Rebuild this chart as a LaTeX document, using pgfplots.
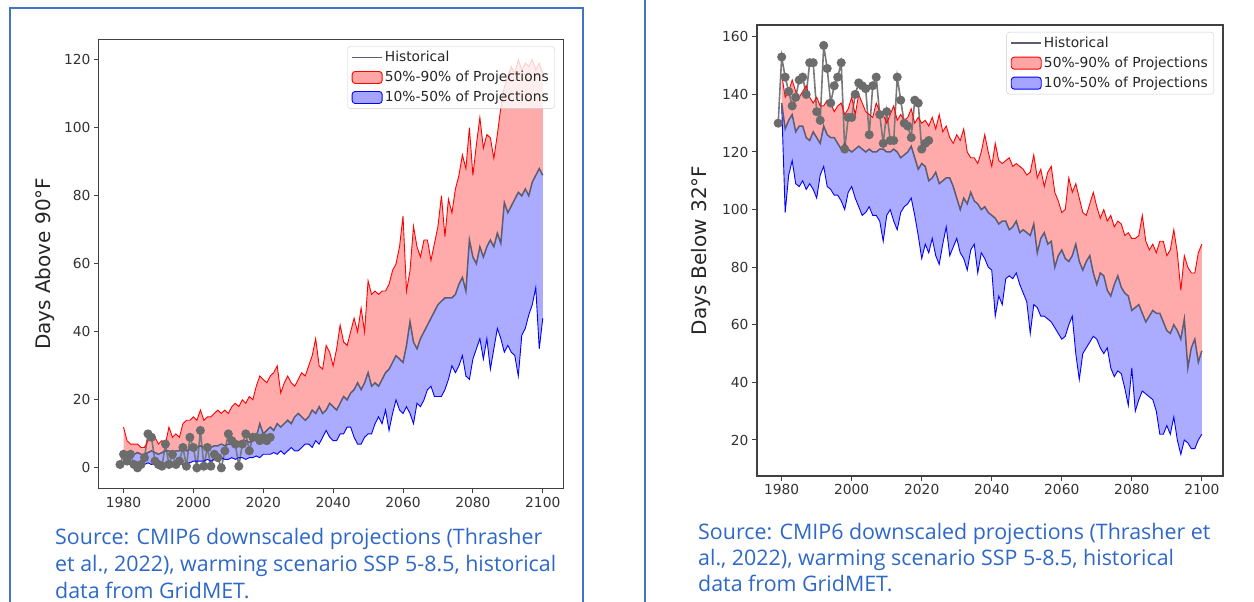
\documentclass[border=0pt]{standalone}
\usepackage{fontspec}
\setmainfont{DejaVu Sans}
\newfontfamily\capfont{Open Sans}
\usepackage{pgfplots}
\pgfplotsset{compat=1.18}
\usepackage{pgfplotstable}
\usepgfplotslibrary{fillbetween}

\definecolor{capblue}{RGB}{45,104,200}
\definecolor{boxblue}{RGB}{68,114,196}
\definecolor{medgray}{RGB}{92,92,115}
\definecolor{histgray}{RGB}{120,120,120}
\definecolor{markgray}{RGB}{108,108,108}

% days above 90F: year, 90th, 50th, 10th percentile
\pgfplotstableread{
year hi mid lo
1980 12 4 1.5
1981 8 4 1
1982 7 4 1
1983 7 4 1.5
1984 7 4.5 1
1985 6 4 1
1986 6 4 1
1987 8 4.5 1.5
1988 10 5 1
1989 9 4.5 1
1990 7 4 1.5
1991 8 4.5 1
1992 7 5 1.5
1993 12 5 1
1994 9 4.5 1.5
1995 10 5 1.5
1996 9 5 1.5
1997 13 5.5 1
1998 14 5 1.5
1999 14 5.5 1.5
2000 15 6 2
2001 14 6 2
2002 17 6.5 2
2003 14 6 2
2004 15 6.5 2.5
2005 15 6 2
2006 16 6.5 2.5
2007 17 6.5 2
2008 16 7 3
2009 17 6.5 2.5
2010 16 7 2.5
2011 18 7 3
2012 19 7 2.5
2013 18 7.5 3
2014 20 7 3
2015 19 8 2.5
2016 21 7.5 3
2017 20 8 3
2018 24 9 3.5
2019 27 13 3
2020 26 10 4
2021 25 11 4
2022 27 12 4
2023 28 11 4.5
2024 30 13 4
2025 22 12 5
2026 25 13 4
2027 27 14 5
2028 25 13 6
2029 24 15 5
2030 26 16 5
2031 28 15 6
2032 27 14 7
2033 30 15 7
2034 33 17 6
2035 38 16 8
2036 30 18 7
2037 29 16 9
2038 36 17 11
2039 34 19 9
2040 30 18 8
2041 35 17 8
2042 42 19 10
2043 37 21 10
2044 36 20 12
2045 40 22 12
2046 44 23 9
2047 40 25 7
2048 47 23 7
2049 40 25 9
2050 55 28 10
2051 51 24 10
2052 52 25 13
2053 51 24 15
2054 52 26 13
2055 52 28 17
2056 54 29 11
2057 58 31 16
2058 60 33 20
2059 65 32 17
2060 74 31 16
2061 52 36 18
2062 58 43 16
2063 71 37 13
2064 65 35 19
2065 62 38 18
2066 67 40 20
2067 67 42 23
2068 61 44 24
2069 66 46 21
2070 71 48 21
2071 80 49 21
2072 68 50 23
2073 79 50 26
2074 75 50 30
2075 82 51 28
2076 86 54 30
2077 92 56 33
2078 88 52 27
2079 100 67 26
2080 86 62 32
2081 95 60 35
2082 103 65 38
2083 94 62 32
2084 98 65 38
2085 97 67 29
2086 91 65 35
2087 98 69 41
2088 106 66 38
2089 112 78 34
2090 115 75 36
2091 118 77 34
2092 116 79 33
2093 120 81 27
2094 117 80 39
2095 119 82 41
2096 118 80 45
2097 120 84 48
2098 117 86 53
2099 119 88 35
2100 116 86 44
}\hotdata

\pgfplotstableread{
year v
1979 1
1980 4
1981 2
1982 4
1983 1
1984 0
1985 1
1986 3
1987 10
1988 9
1989 2
1990 1
1991 0.5
1992 7
1993 1
1994 4
1995 1
1996 2
1997 6
1998 0.5
1999 9
2000 6
2001 0
2002 11
2003 0.5
2004 6
2005 0.5
2006 4
2007 3
2008 0
2009 5
2010 10
2011 8
2012 7
2013 0.5
2014 7
2015 10
2016 5
2017 9
2018 9
2019 8
2020 9
2021 8
2022 9
}\hothist

% days below 32F
\pgfplotstableread{
year hi mid lo
1980 147 137 136
1981 139 128 99
1982 141 131 112
1983 145 133 117
1984 141 127 109
1985 139 129 108
1986 141 129 110
1987 143 125 107
1988 139 124 109
1989 137 127 107
1990 139 125 104
1991 136 123 112
1992 136 129 115
1993 138 126 108
1994 137 125 107
1995 134 125 105
1996 136 123 105
1997 137 121 103
1998 133 123 100
1999 135 121 106
2000 139 120 108
2001 133 121 104
2002 140 122 101
2003 137 121 98
2004 134 120 99
2005 133 121 101
2006 132 120 98
2007 137 120 98
2008 134 121 96
2009 133 121 89
2010 130 120 98
2011 133 120 100
2012 136 121 96
2013 131 120 93
2014 133 118 99
2015 131 119 101
2016 132 120 102
2017 135 122 104
2018 130 118 98
2019 132 114 91
2020 130 116 83
2021 131 115 88
2022 129 110 85
2023 132 111 90
2024 128 113 84
2025 133 109 81
2026 127 110 88
2027 129 111 94
2028 125 111 84
2029 123 108 87
2030 126 104 90
2031 124 100 85
2032 128 104 83
2033 120 102 79
2034 118 106 86
2035 118 103 88
2036 116 102 78
2037 120 100 85
2038 126 101 83
2039 120 99 80
2040 115 98 79
2041 123 97 63
2042 117 95 70
2043 116 96 67
2044 117 96 76
2045 118 93 77
2046 115 94 76
2047 116 96 78
2048 115 92 74
2049 114 93 71
2050 112 92 68
2051 113 91 57
2052 119 95 67
2053 111 85 66
2054 114 90 63
2055 108 92 63
2056 113 88 62
2057 115 89 61
2058 106 80 59
2059 103 84 57
2060 99 86 55
2061 100 83 56
2062 111 82 60
2063 106 84 63
2064 109 88 50
2065 104 82 41
2066 99 79 50
2067 98 82 52
2068 102 84 54
2069 106 78 56
2070 101 74 55
2071 97 78 52
2072 100 77 50
2073 96 72 52
2074 98 70 45
2075 94 74 42
2076 96 77 44
2077 95 73 43
2078 91 71 38
2079 92 70 32
2080 90 65 45
2081 90 66 30
2082 91 67 34
2083 98 64 37
2084 89 61 36
2085 86 63 35
2086 88 65 34
2087 85 64 30
2088 89 64 22
2089 89 61 22
2090 84 58 25
2091 86 57 22
2092 93 60 28
2093 85 58 20
2094 72 55 15
2095 84 62 20
2096 80 45 19
2097 78 52 17
2098 78 55 17
2099 85 47 20
2100 88 51 22
}\colddata

\pgfplotstableread{
year v
1979 130
1980 153
1981 146
1982 141
1983 136
1984 139
1985 145
1986 146
1987 140
1988 151
1989 151
1990 134
1991 131
1992 157
1993 149
1994 137
1995 143
1996 146
1997 151
1998 121
1999 132
2000 132
2001 140
2002 144
2003 143
2004 142
2005 126
2006 143
2007 146
2008 133
2009 123
2010 134
2011 124
2012 124
2013 146
2014 138
2015 130
2016 129
2017 125
2018 138
2019 137
2020 121
2021 123
2022 124
}\coldhist

\pgfplotsset{
  chart/.style={
    scale only axis,
    xmin=1972.95, xmax=2106.05,
    xtick={1980,2000,...,2100},
    tick align=outside, tick pos=left,
    major tick length=5pt,
    axis line style={black!75, line width=1.1pt},
    every tick/.style={black!75, line width=1pt},
    /pgf/number format/1000 sep={},
    /pgf/number format/assume math mode=true,
    tick label style={font=\fontsize{13.8}{16}\selectfont, text=black!80},
    ylabel style={font=\fontsize{20}{23}\selectfont, text=black!85},
    legend cell align=left,
    legend style={at={(1,1)}, anchor=north east, xshift=-9pt, yshift=-7pt,
      draw=black!20, fill=white, fill opacity=0.8, text opacity=1,
      rounded corners=3pt, inner xsep=4pt, inner ysep=3pt, row sep=4pt,
      font=\fontsize{13.8}{15}\selectfont, text=black!85},
  },
  histline/.style={histgray, line width=1.6pt, mark=*, mark size=3.7pt,
    mark options={fill=markgray, draw=markgray}, forget plot},
  hiline/.style={red, line width=0.9pt, forget plot},
  loline/.style={blue, line width=0.9pt, forget plot},
  midline/.style={medgray, line width=1.5pt, forget plot},
}

\newcommand{\chartlegend}{%
  \addlegendimage{legend image code/.code={\draw[medgray, line width=1.4pt] (0pt,0pt) -- (30pt,0pt);}}
  \addlegendentry{Historical}
  \addlegendimage{legend image code/.code={\draw[draw=red, fill=red, fill opacity=0.35, line width=0.9pt] (0pt,-6pt) rectangle (30pt,6pt);}}
  \addlegendentry{50\%-90\% of Projections}
  \addlegendimage{legend image code/.code={\draw[draw=blue, fill=blue, fill opacity=0.35, line width=0.9pt] (0pt,-6pt) rectangle (30pt,6pt);}}
  \addlegendentry{10\%-50\% of Projections}
}

\begin{document}
\begin{tikzpicture}
\path (0pt,0pt) rectangle (1254pt,602pt);

% left chart: days above 90F
\begin{axis}[chart,
  at={(98.9pt,113.7pt)}, anchor=south west,
  width=465pt, height=449pt,
  ymin=-6, ymax=126, ytick={0,20,...,120},
  ylabel={Days Above 90°F},
  ylabel style={at={([xshift=-54pt]axis description cs:0,0.5)}, anchor=center},
]
\addplot[histline] table[x=year, y=v] {\hothist};
\addplot[draw=none, name path=hiA, forget plot] table[x=year, y=hi] {\hotdata};
\addplot[draw=none, name path=midA, forget plot] table[x=year, y=mid] {\hotdata};
\addplot[draw=none, name path=loA, forget plot] table[x=year, y=lo] {\hotdata};
\addplot[fill=red, fill opacity=0.33, draw=none, forget plot] fill between[of=hiA and midA];
\addplot[fill=blue, fill opacity=0.33, draw=none, forget plot] fill between[of=midA and loA];
\addplot[hiline] table[x=year, y=hi] {\hotdata};
\addplot[loline] table[x=year, y=lo] {\hotdata};
\addplot[midline] table[x=year, y=mid] {\hotdata};
\chartlegend
\end{axis}

% right chart: days below 32F
\begin{axis}[chart,
  at={(757pt,126pt)}, anchor=south west,
  width=466pt, height=451pt,
  ymin=7.5, ymax=164.1, ytick={20,40,...,160},
  ylabel={Days Below 32°F},
  ylabel style={at={([xshift=-56pt]axis description cs:0,0.5)}, anchor=center},
]
\addplot[histline] table[x=year, y=v] {\coldhist};
\addplot[draw=none, name path=hiB, forget plot] table[x=year, y=hi] {\colddata};
\addplot[draw=none, name path=midB, forget plot] table[x=year, y=mid] {\colddata};
\addplot[draw=none, name path=loB, forget plot] table[x=year, y=lo] {\colddata};
\addplot[fill=red, fill opacity=0.33, draw=none, forget plot] fill between[of=hiB and midB];
\addplot[fill=blue, fill opacity=0.33, draw=none, forget plot] fill between[of=midB and loB];
\addplot[hiline] table[x=year, y=hi] {\colddata};
\addplot[loline] table[x=year, y=lo] {\colddata};
\addplot[midline] table[x=year, y=mid] {\colddata};
\chartlegend
\end{axis}

% captions and frames (kept out of the bounding box)
\begin{scope}[overlay]
\draw[boxblue, line width=1.5pt] (10pt,-20pt) -- (10pt,594pt) -- (583pt,594pt) -- (583pt,-20pt);
\draw[boxblue, line width=1.5pt] (645pt,-20pt) -- (645pt,620pt);
\end{scope}
\begin{scope}[every node/.style={anchor=base west, inner sep=0pt, text=capblue,
    font=\capfont\fontsize{21.4}{27}\selectfont, overlay}]
\node at (55pt,57pt) {Source: CMIP6 downscaled projections (Thrasher};
\node at (55pt,30pt) {et al., 2022), warming scenario SSP 5-8.5, historical};
\node at (55pt,3.5pt) {data from GridMET.};
\node at (698pt,62pt) {Source: CMIP6 downscaled projections (Thrasher et};
\node at (698pt,36pt) {al., 2022), warming scenario SSP 5-8.5, historical};
\node at (698pt,10pt) {data from GridMET.};
\end{scope}
\end{tikzpicture}
\end{document}
